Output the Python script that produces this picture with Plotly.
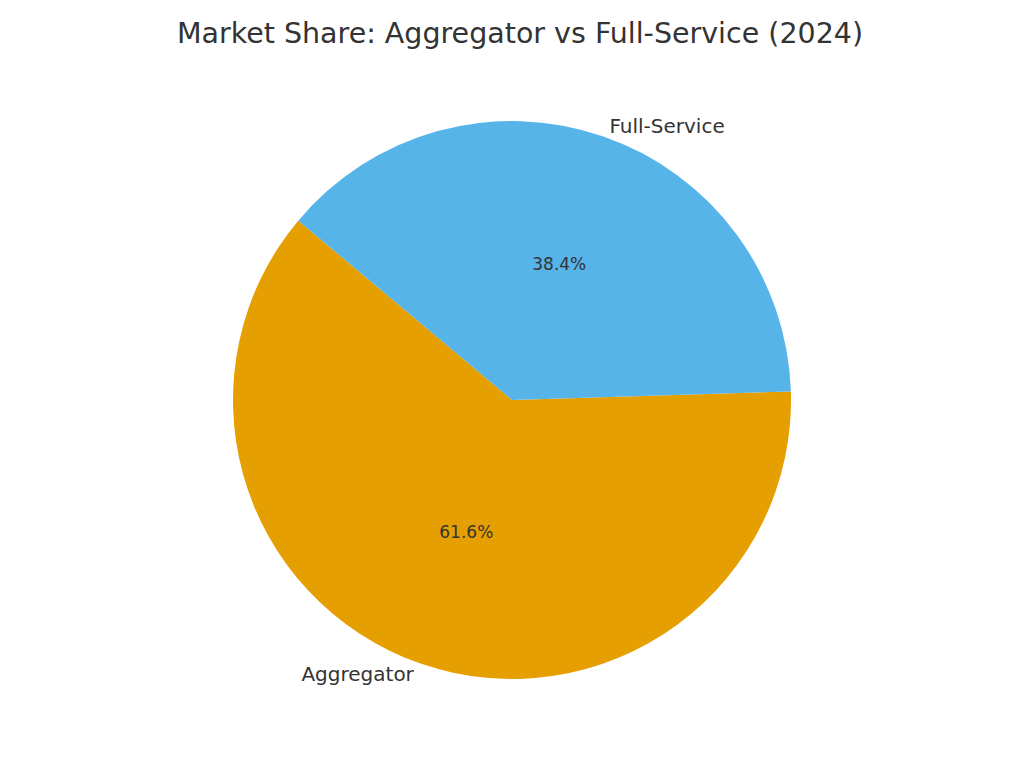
import plotly.graph_objects as go

labels = ["Aggregator", "Full-Service"]
values = [61.6, 38.4]
colors = ["#E69F00", "#56B4E9"]

dom = dict(x=[225 / 1024, 783 / 1024], y=[1 - 671 / 768, 1 - 113 / 768])

fig = go.Figure()
# slices with percentages inside
fig.add_trace(go.Pie(
    labels=labels, values=values, sort=False, direction="clockwise",
    rotation=88.24, marker=dict(colors=colors),
    texttemplate="%{percent:.1%}", textposition="inside", insidetextorientation="horizontal",
    textfont=dict(size=17, color="#333333"), showlegend=False, domain=dom,
))
# transparent overlay for the outside labels
fig.add_trace(go.Pie(
    labels=labels, values=values, sort=False, direction="clockwise",
    rotation=88.24, marker=dict(colors=["rgba(0,0,0,0)"] * 2), textinfo="label",
    textposition="outside", textfont=dict(size=20, color="#333333"),
    showlegend=False, domain=dom, hoverinfo="skip",
))

fig.update_layout(
    width=1024, height=768,
    title=dict(text="Market Share: Aggregator vs Full-Service (2024)", x=0.5, y=0.968,
               xanchor="center", yanchor="middle",
               font=dict(size=28.5, color="#333333")),
    font=dict(family="DejaVu Sans"),
    margin=dict(l=0, r=0, t=0, b=0),
    paper_bgcolor="white", plot_bgcolor="white",
)

fig.write_html("out.html")
